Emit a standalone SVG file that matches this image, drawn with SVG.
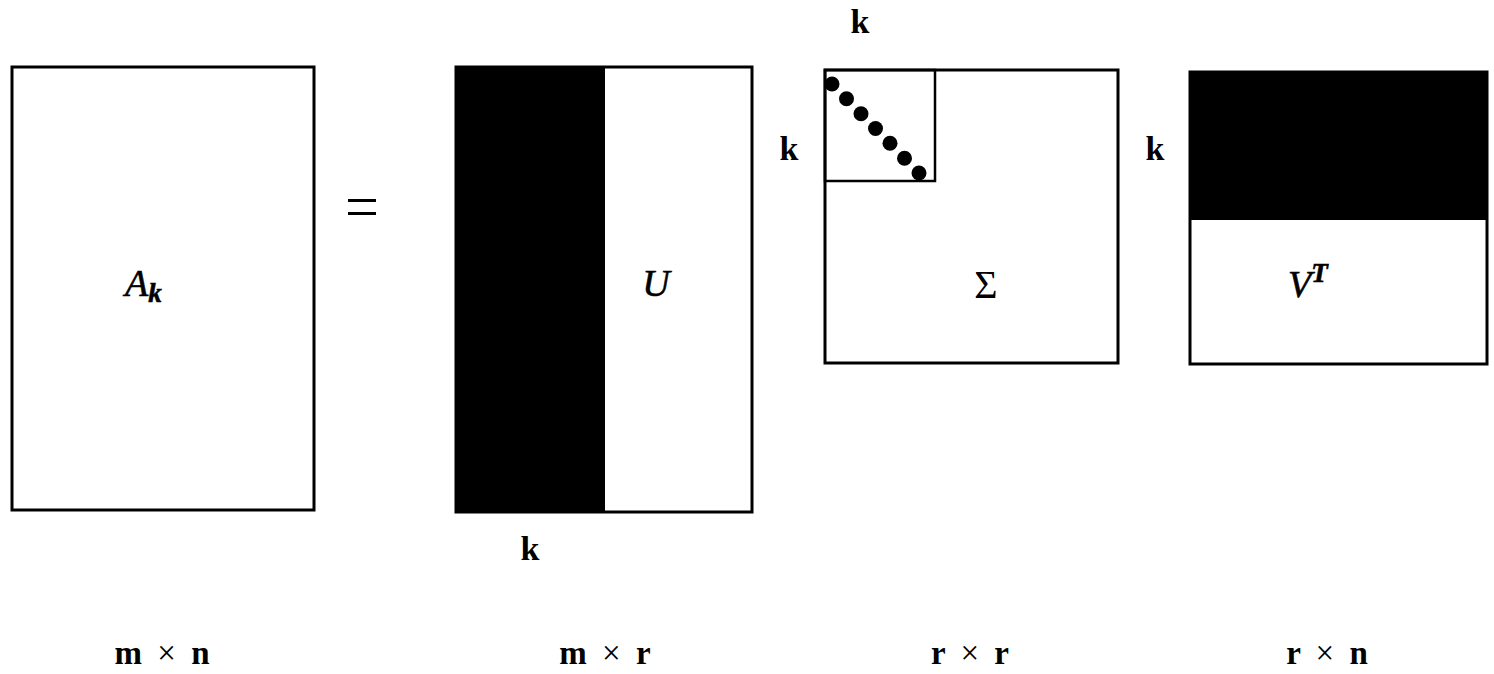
<svg xmlns="http://www.w3.org/2000/svg" width="1494" height="674" viewBox="0 0 1494 674">
<style>
.box{fill:#fff;stroke:#000;stroke-width:3}
.blk{fill:#000}
.lbl{font-family:"Liberation Serif","DejaVu Serif",serif;font-weight:bold;font-size:34px;fill:#000}
.dim{font-family:"Liberation Serif","DejaVu Serif",serif;font-weight:bold;font-size:33px;fill:#000;word-spacing:7px}
.x{font-weight:normal}
.mat{font-family:"Liberation Serif","DejaVu Serif",serif;font-style:italic;font-size:38px;fill:#000;stroke:#000;stroke-width:0.6}
.sym{font-family:"Liberation Serif","DejaVu Serif",serif;font-size:40px;fill:#000}
</style>
<rect width="1494" height="674" fill="#fff"/>
<g id="A">
<rect class="box" x="12" y="67" width="302" height="443"/>
<text class="mat" x="125" y="296">A<tspan font-size="27" font-weight="bold" dy="6">k</tspan></text>
<text class="dim" x="162" y="664" text-anchor="middle">m <tspan class="x">×</tspan> n</text>
</g>
<g id="eq">
<rect class="blk" x="348" y="199" width="28" height="3"/>
<rect class="blk" x="348" y="212" width="28" height="3"/>
</g>
<g id="U">
<rect class="box" x="456" y="67" width="296" height="445"/>
<rect class="blk" x="456" y="67" width="149" height="445"/>
<text class="mat" x="656" y="296" text-anchor="middle">U</text>
<text class="lbl" x="530" y="560" text-anchor="middle">k</text>
<text class="dim" x="605" y="664" text-anchor="middle">m <tspan class="x">×</tspan> r</text>
</g>
<g id="S">
<rect class="box" x="825" y="70" width="293" height="293"/>
<rect fill="none" stroke="#000" stroke-width="2.5" x="825" y="70" width="110" height="111"/>
<g class="blk">
<circle cx="832" cy="84" r="7.5"/>
<circle cx="846.5" cy="98.8" r="7.5"/>
<circle cx="861" cy="113.7" r="7.5"/>
<circle cx="875.5" cy="128.5" r="7.5"/>
<circle cx="890" cy="143.3" r="7.5"/>
<circle cx="904.5" cy="158.2" r="7.5"/>
<circle cx="919" cy="173" r="7.5"/>
</g>
<text class="sym" x="986" y="298" text-anchor="middle">Σ</text>
<text class="lbl" x="860" y="33" text-anchor="middle">k</text>
<text class="lbl" x="789" y="160" text-anchor="middle">k</text>
<text class="dim" x="970" y="664" text-anchor="middle">r <tspan class="x">×</tspan> r</text>
</g>
<g id="VT">
<rect class="box" x="1190" y="72" width="297" height="292"/>
<rect class="blk" x="1190" y="72" width="297" height="148"/>
<text class="mat" x="1288" y="297">V<tspan font-size="27" font-weight="bold" dy="-15">T</tspan></text>
<text class="lbl" x="1155" y="160" text-anchor="middle">k</text>
<text class="dim" x="1327" y="664" text-anchor="middle">r <tspan class="x">×</tspan> n</text>
</g>
<g id="connectors"></g>
</svg>
